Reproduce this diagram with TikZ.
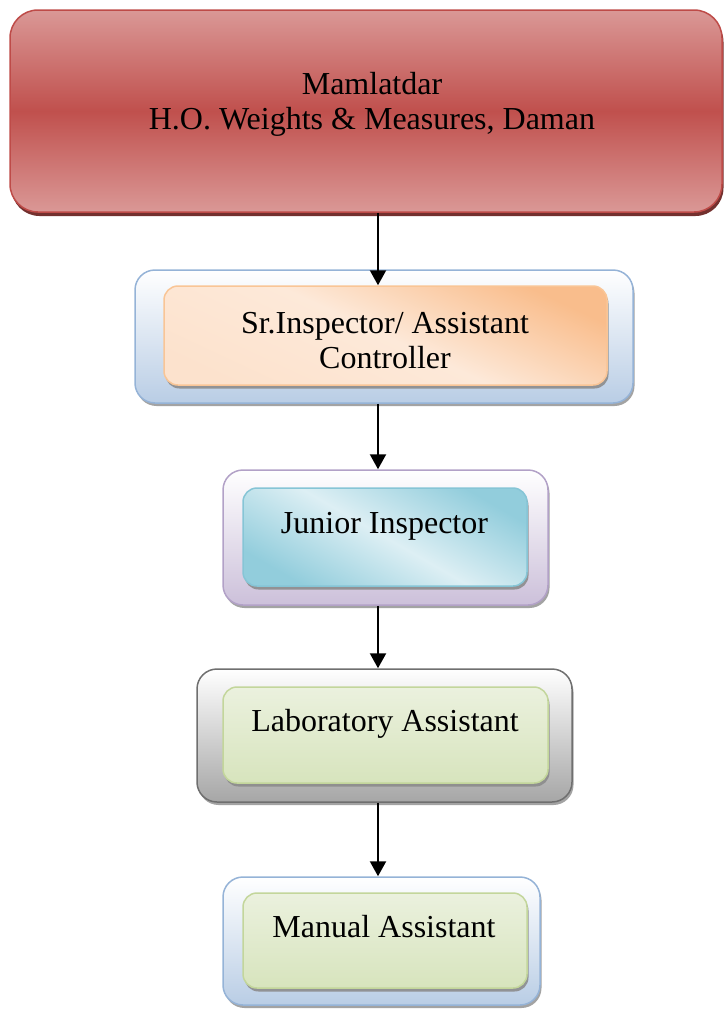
\documentclass[tikz,border=0pt]{standalone}
\usepackage{fontspec}
\setmainfont{Liberation Serif}
\usetikzlibrary{arrows.meta,shadows}

\definecolor{redtop}{HTML}{DA9896}
\definecolor{redmid}{HTML}{C0504D}
\definecolor{redline}{HTML}{BE4B48}
\definecolor{blueline}{HTML}{95B3D7}
\definecolor{bluebot}{HTML}{B9CDE5}
\definecolor{lilacline}{HTML}{B2A1C7}
\definecolor{lilacbot}{HTML}{CCC0DA}
\definecolor{grayline}{HTML}{6F6F6F}
\definecolor{graybot}{HTML}{A6A6A6}
\definecolor{orangedark}{HTML}{F9BD8C}
\definecolor{orangelight}{HTML}{FDE9D9}
\definecolor{orangeline}{HTML}{F9C596}
\definecolor{tealdark}{HTML}{92CDDC}
\definecolor{teallight}{HTML}{DDEFF4}
\definecolor{tealline}{HTML}{86C5D6}
\definecolor{greentop}{HTML}{EBF1DE}
\definecolor{greenbot}{HTML}{D7E4BD}
\definecolor{greenline}{HTML}{C3D69B}

\tikzset{
  box/.style={rounded corners=#1, inner sep=0pt, line width=1.5pt},
  outerbox/.style={box=20pt, top color=white, drop shadow={shadow xshift=1.5pt, shadow yshift=-3pt, fill=gray!80, opacity=.9}},
  innerbox/.style={box=14pt, drop shadow={shadow xshift=1.5pt, shadow yshift=-3.5pt, fill=black!45, opacity=.9}},
  greenbox/.style={innerbox, top color=greentop, bottom color=greenbot, draw=greenline},
  lbl/.style={font=\fontsize{32}{35}\selectfont, align=center},
  link/.style={line width=2.2pt, -{Triangle[length=15pt,width=16pt]}}
}

\begin{document}
\begin{tikzpicture}[x=1pt, y=-1pt]
  \useasboundingbox (0,0) rectangle (725,1009);

  % head office
  \node[box=28pt, draw=redline, top color=redtop, bottom color=redtop, middle color=redmid,
        drop shadow={shadow xshift=1.5pt, shadow yshift=-4pt, fill=redmid!60!black, opacity=1},
        minimum width=712pt, minimum height=202pt] (mamlatdar) at (366,111) {};
  \node[lbl] (mamlatdartext) at (372,104.5) {Mamlatdar\\H.O. Weights \& Measures, Daman};

  % senior inspector
  \node[outerbox, draw=blueline, bottom color=bluebot, minimum width=498pt, minimum height=133pt] (srout) at (384,336.5) {};
  \node[innerbox, draw=orangeline, top color=orangedark, bottom color=orangelight!85!orangedark, middle color=orangelight,
        shading angle=-25, minimum width=443pt, minimum height=99pt] (srin) at (385.5,335.5) {};
  \node[lbl] (srtext) at (385,340.5) {Sr.Inspector/ Assistant\\Controller};

  % junior inspector
  \node[outerbox, draw=lilacline, bottom color=lilacbot, minimum width=325pt, minimum height=135pt] (jrout) at (385.5,537.5) {};
  \node[innerbox, draw=tealline, top color=tealdark, bottom color=tealdark, middle color=teallight,
        shading angle=-30, minimum width=284pt, minimum height=98pt] (jrin) at (385,537) {};
  \node[lbl, anchor=base] (jrtext) at (384.5,533) {Junior Inspector};

  % laboratory assistant
  \node[outerbox, draw=grayline, bottom color=graybot, minimum width=375pt, minimum height=133pt] (labout) at (384.5,735.5) {};
  \node[greenbox, minimum width=325pt, minimum height=96pt] (labin) at (385.5,735) {};
  \node[lbl, anchor=base] (labtext) at (385,731) {Laboratory Assistant};

  % manual assistant
  \node[outerbox, draw=blueline, bottom color=bluebot, minimum width=317pt, minimum height=128pt] (manout) at (381.5,941) {};
  \node[greenbox, minimum width=284pt, minimum height=95pt] (manin) at (385,940.5) {};
  \node[lbl, anchor=base] (mantext) at (384,937) {Manual Assistant};

  \coordinate (axis) at (378,0);
  \draw[link] (mamlatdar.south -| axis) -- (srin.north -| axis);
  \draw[link] (srout.south -| axis) -- (jrout.north -| axis);
  \draw[link] (jrout.south -| axis) -- (labout.north -| axis);
  \draw[link] (labout.south -| axis) -- (manout.north -| axis);
\end{tikzpicture}
\end{document}
